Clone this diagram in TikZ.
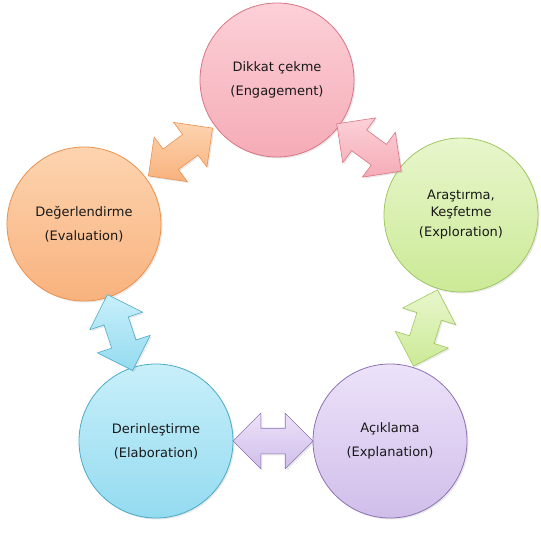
\documentclass[tikz,border=0pt]{standalone}
\usepackage{fontspec}
\setmainfont{DejaVu Sans}
\usetikzlibrary{shapes.arrows,shadows}

\definecolor{pinkTop}{RGB}{252,208,215}
\definecolor{pinkBot}{RGB}{245,172,183}
\definecolor{pinkLine}{RGB}{218,118,132}
\definecolor{greenTop}{RGB}{232,246,204}
\definecolor{greenBot}{RGB}{203,234,150}
\definecolor{greenLine}{RGB}{160,200,95}
\definecolor{purpleTop}{RGB}{236,226,249}
\definecolor{purpleBot}{RGB}{208,190,234}
\definecolor{purpleLine}{RGB}{140,115,180}
\definecolor{blueTop}{RGB}{200,239,250}
\definecolor{blueBot}{RGB}{148,219,240}
\definecolor{blueLine}{RGB}{75,170,200}
\definecolor{orangeTop}{RGB}{253,212,176}
\definecolor{orangeBot}{RGB}{248,178,125}
\definecolor{orangeLine}{RGB}{235,145,80}

\begin{document}
\begin{tikzpicture}[
  x=1pt,y=-1pt,
  font=\fontsize{13}{17}\selectfont,
  phase/.style={circle,draw,line width=0.8pt,minimum size=154pt,align=center,text=black!90,
    drop shadow={opacity=0.18,shadow xshift=1.5pt,shadow yshift=-1.5pt}},
  link/.style={double arrow,draw,line width=0.6pt,minimum height=80pt,inner sep=12.5pt,
    double arrow head extend=15pt,sloped,
    drop shadow={opacity=0.18,shadow xshift=1.5pt,shadow yshift=-1.5pt}}
]
\useasboundingbox (0,0) rectangle (541,533);

\node[phase,top color=pinkTop,bottom color=pinkBot,draw=pinkLine] (engage) at (277,80) {Dikkat çekme\\[7pt](Engagement)};
\node[phase,top color=greenTop,bottom color=greenBot,draw=greenLine] (explore) at (461,215) {Araştırma,\\Keşfetme\\[3pt](Exploration)};
\node[phase,top color=purpleTop,bottom color=purpleBot,draw=purpleLine] (explain) at (390,441) {Açıklama\\[7pt](Explanation)};
\node[phase,top color=blueTop,bottom color=blueBot,draw=blueLine] (elab) at (156,441) {Derinleştirme\\[7pt](Elaboration)};
\node[phase,top color=orangeTop,bottom color=orangeBot,draw=orangeLine] (eval) at (84,224) {Değerlendirme\\[7pt](Evaluation)};

\path (eval) -- node[link,top color=orangeTop,bottom color=orangeBot,draw=orangeLine] {} (engage);
\path (engage) -- node[link,top color=pinkTop,bottom color=pinkBot,draw=pinkLine] {} (explore);
\path (explore) -- node[link,top color=greenTop,bottom color=greenBot,draw=greenLine] {} (explain);
\path (explain) -- node[link,top color=purpleTop,bottom color=purpleBot,draw=purpleLine] {} (elab);
\path (elab) -- node[link,top color=blueTop,bottom color=blueBot,draw=blueLine] {} (eval);
\end{tikzpicture}
\end{document}
